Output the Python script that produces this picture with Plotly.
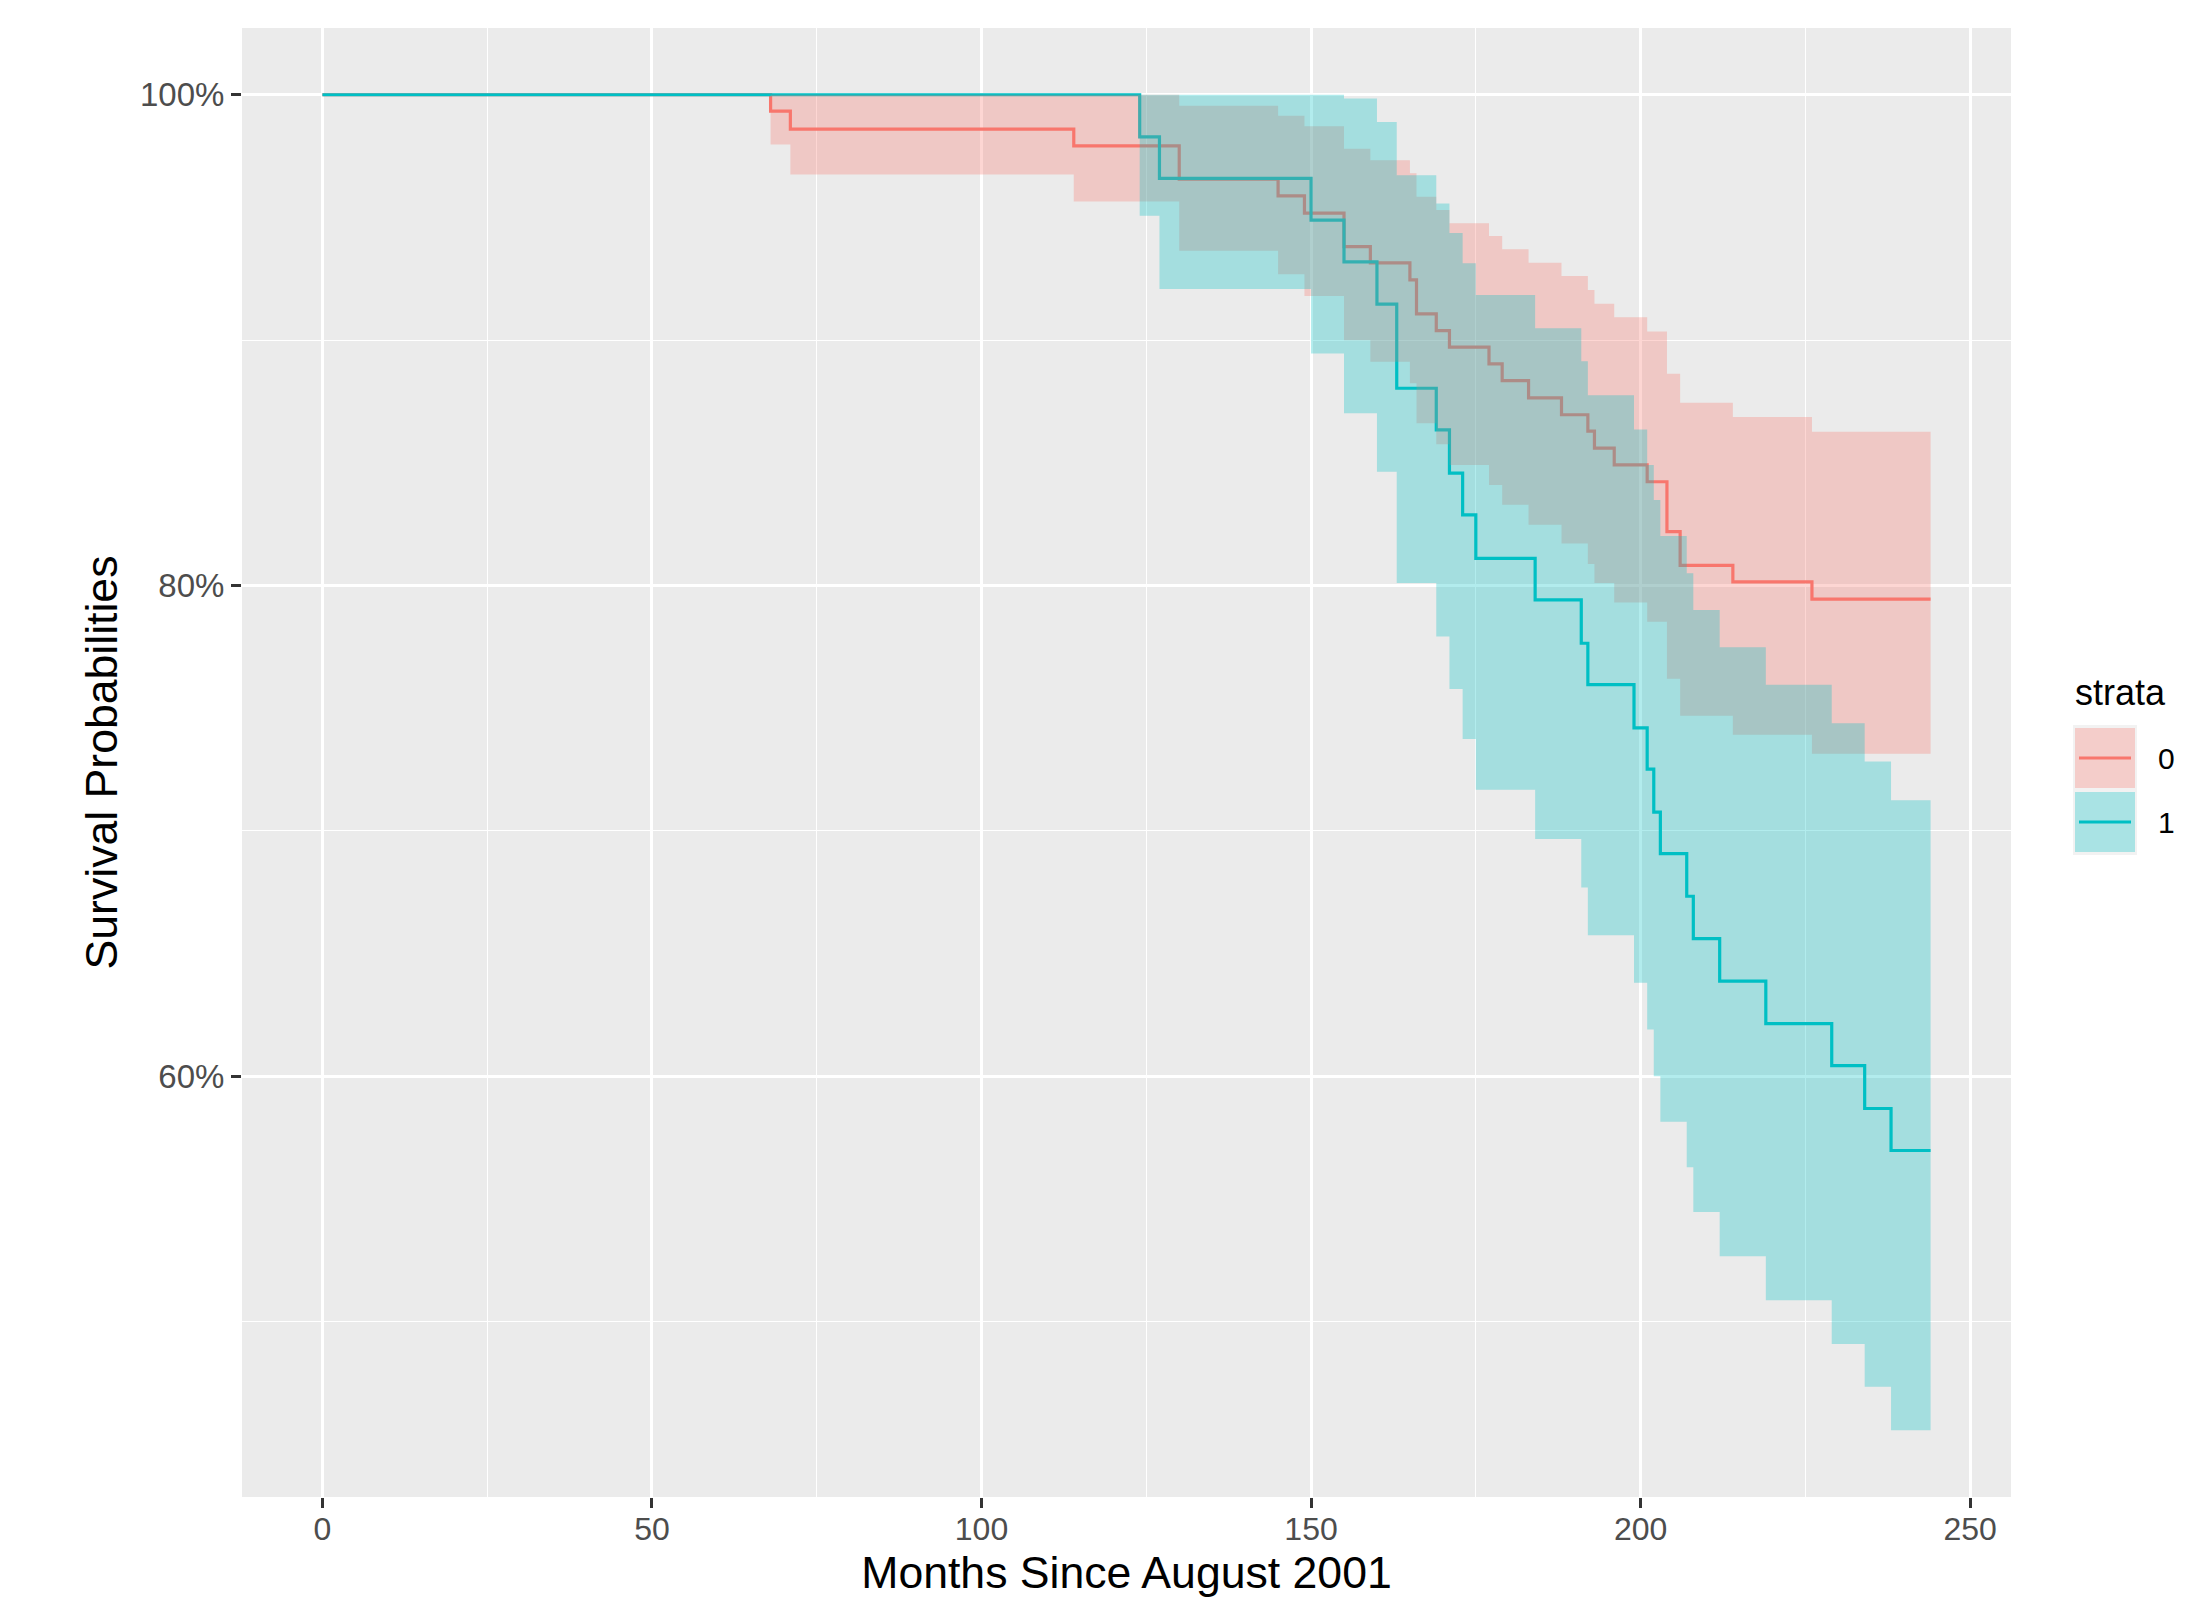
import plotly.graph_objects as go

# ---------------- data ----------------
end_time = 244

red_time = [0, 68, 71, 114, 130, 145, 149, 155, 159, 165, 166, 169, 171, 177, 179,
            183, 188, 192, 193, 196, 201, 204, 206, 214, 226]
red_surv = [100, 99.33, 98.6, 97.92, 96.56, 95.88, 95.18, 93.81, 93.15, 92.46, 91.07,
            90.39, 89.72, 89.03, 88.35, 87.65, 86.96, 86.29, 85.6, 84.92, 84.23, 82.2,
            80.82, 80.15, 79.45]
red_upper = [100, 100, 100, 100, 99.55, 99.14, 98.72, 97.8, 97.33, 96.8, 95.84, 95.3,
             94.76, 94.24, 93.7, 93.15, 92.61, 92.04, 91.48, 90.93, 90.35, 88.63, 87.45,
             86.87, 86.27]
red_lower = [100, 97.97, 96.75, 95.65, 93.64, 92.69, 91.8, 90.0, 89.12, 88.24, 86.61,
             85.76, 84.91, 84.1, 83.29, 82.48, 81.71, 80.88, 80.1, 79.31, 78.53, 76.2,
             74.7, 73.92, 73.15]

cyan_time = [0, 124, 127, 150, 155, 160, 163, 169, 171, 173, 175, 184, 191, 192, 199,
             201, 202, 203, 207, 208, 212, 219, 229, 234, 238]
cyan_surv = [100, 98.28, 96.59, 94.89, 93.19, 91.47, 88.04, 86.34, 84.58, 82.88, 81.11,
             79.42, 77.65, 75.96, 74.2, 72.52, 70.77, 69.08, 67.34, 65.61, 63.88, 62.15,
             60.44, 58.69, 56.98]
cyan_upper = [100, 100, 100, 100, 99.85, 98.89, 96.72, 95.57, 94.37, 93.13, 91.84, 90.49,
              89.14, 87.76, 86.36, 84.91, 83.49, 82.02, 80.5, 79.0, 77.49, 75.96, 74.39,
              72.83, 71.25]
cyan_lower = [100, 95.07, 92.08, 89.46, 87.02, 84.64, 80.1, 77.92, 75.79, 73.75, 71.68,
              69.67, 67.7, 65.75, 63.81, 61.91, 60.0, 58.15, 56.3, 54.47, 52.67, 50.88,
              49.09, 47.35, 45.58]

strata = ["0", "1"]
x_ticks = [0, 50, 100, 150, 200, 250]
y_ticks = [60, 80, 100]
y_tick_labels = ["60%", "80%", "100%"]
x_minor = [25, 75, 125, 175, 225]
y_minor = [50, 70, 90]

RED = "#F8766D"
CYAN = "#00BFC4"
RED_FILL = "rgba(248,118,109,0.3)"
CYAN_FILL = "rgba(0,191,196,0.3)"
FONT = "Liberation Sans, Arial, sans-serif"


def step_xy(times, vals, t_end):
    xs, ys = [], []
    for i, (t, v) in enumerate(zip(times, vals)):
        t_next = times[i + 1] if i + 1 < len(times) else t_end
        xs += [t, t_next]
        ys += [v, v]
    return xs, ys


def band_polygon(times, up, lo, t_end):
    xu, yu = step_xy(times, up, t_end)
    xl, yl = step_xy(times, lo, t_end)
    return xu + xl[::-1], yu + yl[::-1]


fig = go.Figure()

# survival curves (drawn first, ribbons on top as in the reference)
for times, surv, col, name in [(red_time, red_surv, RED, strata[0]),
                               (cyan_time, cyan_surv, CYAN, strata[1])]:
    x, y = step_xy(times, surv, end_time)
    fig.add_trace(go.Scatter(x=x, y=y, mode="lines", name=name,
                             line=dict(color=col, width=3.2),
                             showlegend=False, hoverinfo="skip"))

for times, up, lo, fc, name in [(red_time, red_upper, red_lower, RED_FILL, strata[0]),
                                (cyan_time, cyan_upper, cyan_lower, CYAN_FILL, strata[1])]:
    x, y = band_polygon(times, up, lo, end_time)
    fig.add_trace(go.Scatter(x=x, y=y, mode="lines", fill="toself", fillcolor=fc,
                             line=dict(width=0, color=fc), name=name,
                             showlegend=False, hoverinfo="skip"))

# ---- layout geometry (page pixels; the page body adds an 8px offset) ----
OFF = 8
W, H = 2193 - OFF, 1597 - OFF
L, R, T, B = 242 - OFF, 2011 - OFF, 28 - OFF, 1497 - OFF


def px(xp):
    return (xp - OFF - L) / (R - L)


def py(yp):
    return (B - (yp - OFF)) / (B - T)


# custom ggplot-style legend (reference pixel positions)
shapes = [
    dict(type="rect", xref="paper", yref="paper", x0=px(2073), x1=px(2137),
         y0=py(855), y1=py(725), fillcolor="#F2F2F2", line=dict(width=0), layer="above"),
    dict(type="rect", xref="paper", yref="paper", x0=px(2075), x1=px(2135),
         y0=py(788), y1=py(728), fillcolor=RED_FILL, line=dict(width=0), layer="above"),
    dict(type="rect", xref="paper", yref="paper", x0=px(2075), x1=px(2135),
         y0=py(852), y1=py(792), fillcolor=CYAN_FILL, line=dict(width=0), layer="above"),
    dict(type="line", xref="paper", yref="paper", x0=px(2079), x1=px(2131),
         y0=py(758), y1=py(758), line=dict(color=RED, width=3.2), layer="above"),
    dict(type="line", xref="paper", yref="paper", x0=px(2079), x1=px(2131),
         y0=py(822), y1=py(822), line=dict(color=CYAN, width=3.2), layer="above"),
]
annotations = [
    dict(text="strata", xref="paper", yref="paper", x=px(2073), y=py(692),
         xanchor="left", yanchor="middle", showarrow=False,
         font=dict(family=FONT, size=36, color="#000000")),
    dict(text=strata[0], xref="paper", yref="paper", x=px(2156), y=py(758),
         xanchor="left", yanchor="middle", showarrow=False,
         font=dict(family=FONT, size=30, color="#000000")),
    dict(text=strata[1], xref="paper", yref="paper", x=px(2156), y=py(822),
         xanchor="left", yanchor="middle", showarrow=False,
         font=dict(family=FONT, size=30, color="#000000")),
]

fig.update_layout(
    width=W, height=H,
    margin=dict(l=L, r=W - R, t=T, b=H - B, autoexpand=False),
    paper_bgcolor="white", plot_bgcolor="#EBEBEB",
    font=dict(family=FONT, color="#000000"),
    showlegend=False,
    shapes=shapes, annotations=annotations,
)

fig.update_xaxes(
    range=[-12.2, 256.2], tickvals=x_ticks, ticktext=[str(v) for v in x_ticks],
    showgrid=True, gridcolor="white", gridwidth=2.7, zeroline=False,
    ticks="outside", ticklen=10, tickwidth=2.5, tickcolor="#333333",
    tickfont=dict(family=FONT, size=32, color="#4D4D4D"),
    ticklabelstandoff=-6,
    minor=dict(tickvals=x_minor, showgrid=True, gridcolor="white", gridwidth=1.4, ticklen=0),
    showline=False,
    title=dict(text="Months Since August 2001", standoff=24,
               font=dict(family=FONT, size=44.6, color="#000000")),
    automargin=False,
)
fig.update_yaxes(
    range=[42.86, 102.72], tickvals=y_ticks, ticktext=y_tick_labels,
    showgrid=True, gridcolor="white", gridwidth=2.7, zeroline=False,
    ticks="outside", ticklen=10, tickwidth=2.5, tickcolor="#333333",
    tickfont=dict(family=FONT, size=33, color="#4D4D4D"),
    minor=dict(tickvals=y_minor, showgrid=True, gridcolor="white", gridwidth=1.4, ticklen=0),
    showline=False,
    title=dict(text="Survival Probabilities", standoff=8,
               font=dict(family=FONT, size=44.6, color="#000000")),
    automargin=False,
)

fig.write_html("out.html")
